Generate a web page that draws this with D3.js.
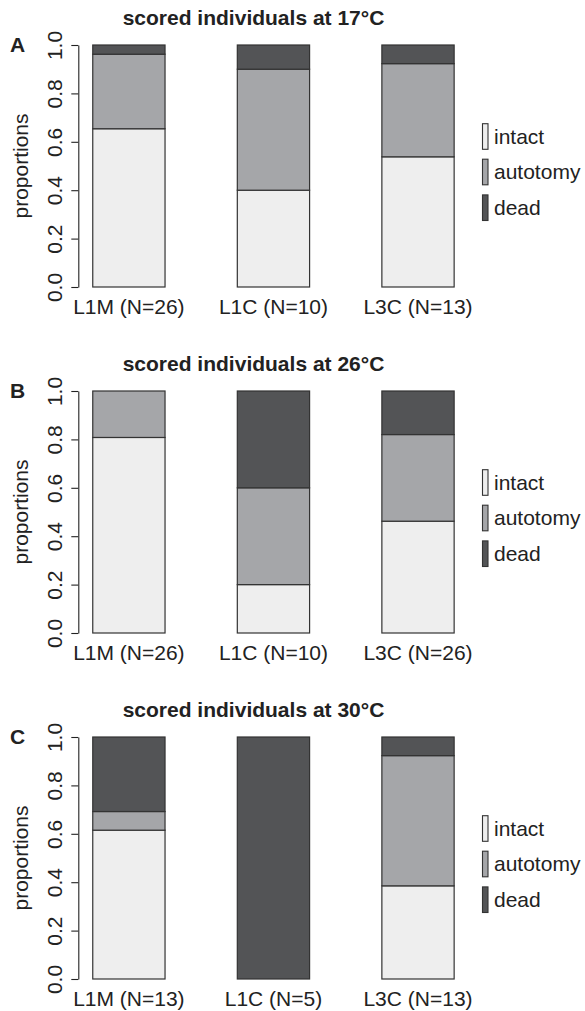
<!DOCTYPE html>
<html>
<head>
<meta charset="utf-8">
<script src="https://cdn.jsdelivr.net/npm/d3@7"></script>
<style>
    html, body { margin: 0; padding: 0; background: #fff; }
    svg { display: block; font-family: "Liberation Sans", Arial, Helvetica, sans-serif; }
</style>
</head>
<body>
<svg id="chart" width="585" height="1011"></svg>
<script>
// groups along the x axis
const lines = ['L1M', 'L1C', 'L3C'];
const outcomes = ['intact', 'autotomy', 'dead'];

// one entry per panel
const panelLetters = ['A', 'B', 'C'];
const temperatures = ['17°C', '26°C', '30°C'];
const sampleSizes = [
    [26, 10, 13],
    [26, 10, 26],
    [13, 5, 13]
];

// proportions (intact / autotomy / dead)
const intact = [
    [0.654, 0.400, 0.538],
    [0.808, 0.200, 0.462],
    [0.615, 0.000, 0.385]
];
const autotomy = [
    [0.308, 0.500, 0.385],
    [0.192, 0.400, 0.358],
    [0.077, 0.000, 0.538]
];
const dead = [
    [0.038, 0.100, 0.077],
    [0.000, 0.400, 0.180],
    [0.308, 1.000, 0.077]
];

const yTicks = [0, 0.2, 0.4, 0.6, 0.8, 1.0];

class ScoredPanel {
    constructor(svg, index, top) {
        this.svg = svg;
        this.i = index;
        this.top = top;
        this.height = 242;
        this.bottom = top + this.height;
        this.fills = { intact: '#eeeeee', autotomy: '#a5a6a9', dead: '#535456' };

        this.x = d3.scaleBand()
            .domain(lines)
            .range([78.3, 468.6])
            .paddingInner(0.5)
            .paddingOuter(0.1);

        this.y = d3.scaleLinear()
            .domain([0, 1])
            .range([this.bottom, this.top]);

        this.g = svg.append('g').attr('class', `panel-${panelLetters[index]}`);
        this.render();
    }

    render() {
        const i = this.i;
        const rows = lines.map((line, j) => ({
            line: line,
            n: sampleSizes[i][j],
            intact: intact[i][j],
            autotomy: autotomy[i][j],
            dead: dead[i][j]
        }));
        const series = d3.stack().keys(outcomes)(rows);

        // stacked bars
        this.g.append('g')
            .selectAll('g')
            .data(series)
            .enter()
            .append('g')
            .attr('fill', d => this.fills[d.key])
            .selectAll('rect')
            .data(d => d.filter(s => s[1] - s[0] > 0))
            .enter()
            .append('rect')
            .attr('x', d => this.x(d.data.line))
            .attr('width', this.x.bandwidth())
            .attr('y', d => this.y(d[1]))
            .attr('height', d => this.y(d[0]) - this.y(d[1]))
            .attr('stroke', '#333')
            .attr('stroke-width', 1.2);

        // y axis, R style: labels parallel to the axis
        const axis = this.g.append('g')
            .attr('transform', 'translate(78.3,0)')
            .call(d3.axisLeft(this.y)
                .tickValues(yTicks)
                .tickFormat(d3.format('.1f'))
                .tickSize(7)
                .tickSizeOuter(0));
        axis.select('.domain').attr('stroke', '#222').attr('stroke-width', 1.1);
        axis.selectAll('.tick line').attr('stroke', '#222').attr('stroke-width', 1.1);
        axis.selectAll('.tick text')
            .attr('transform', 'rotate(-90)')
            .attr('x', 0)
            .attr('y', -16.6)
            .attr('dy', null)
            .attr('text-anchor', 'middle')
            .attr('font-size', 21)
            .attr('font-family', null)
            .attr('fill', '#222');

        this.g.append('text')
            .attr('transform', `translate(27.5,${(this.top + this.bottom) / 2}) rotate(-90)`)
            .attr('text-anchor', 'middle')
            .attr('font-size', 21)
            .attr('fill', '#222')
            .text('proportions');

        // group labels under the bars
        this.g.append('g')
            .selectAll('text')
            .data(rows)
            .enter()
            .append('text')
            .attr('x', d => this.x(d.line) + this.x.bandwidth() / 2)
            .attr('y', this.bottom + 27)
            .attr('text-anchor', 'middle')
            .attr('font-size', 21)
            .attr('fill', '#222')
            .text(d => `${d.line} (N=${d.n})`);

        this.g.append('text')
            .attr('x', 253.5)
            .attr('y', this.top - 20.5)
            .attr('text-anchor', 'middle')
            .attr('font-size', 21)
            .attr('font-weight', 'bold')
            .attr('fill', '#222')
            .text(`scored individuals at ${temperatures[i]}`);

        this.g.append('text')
            .attr('x', 10)
            .attr('y', this.top + 6.5)
            .attr('font-size', 21)
            .attr('font-weight', 'bold')
            .attr('fill', '#222')
            .text(panelLetters[i]);

        this.renderLegend();
    }

    renderLegend() {
        const offsets = [91.5, 127, 162.7];
        const items = this.g.append('g')
            .selectAll('g')
            .data(outcomes)
            .enter()
            .append('g')
            .attr('transform', (d, k) => `translate(482.5,${this.top + offsets[k]})`);

        items.append('rect')
            .attr('x', 0)
            .attr('y', -12.8)
            .attr('width', 5.5)
            .attr('height', 25.6)
            .attr('fill', d => this.fills[d])
            .attr('stroke', '#333')
            .attr('stroke-width', 1.1);

        items.append('text')
            .attr('x', 11.5)
            .attr('y', 7)
            .attr('font-size', 21)
            .attr('fill', '#222')
            .text(d => d);
    }
}

const svg = d3.select('#chart');
svg.append('rect').attr('width', 585).attr('height', 1011).attr('fill', '#fff');
const panelTops = [45, 391, 737];
panelTops.forEach((top, i) => new ScoredPanel(svg, i, top));
</script>
</body>
</html>
